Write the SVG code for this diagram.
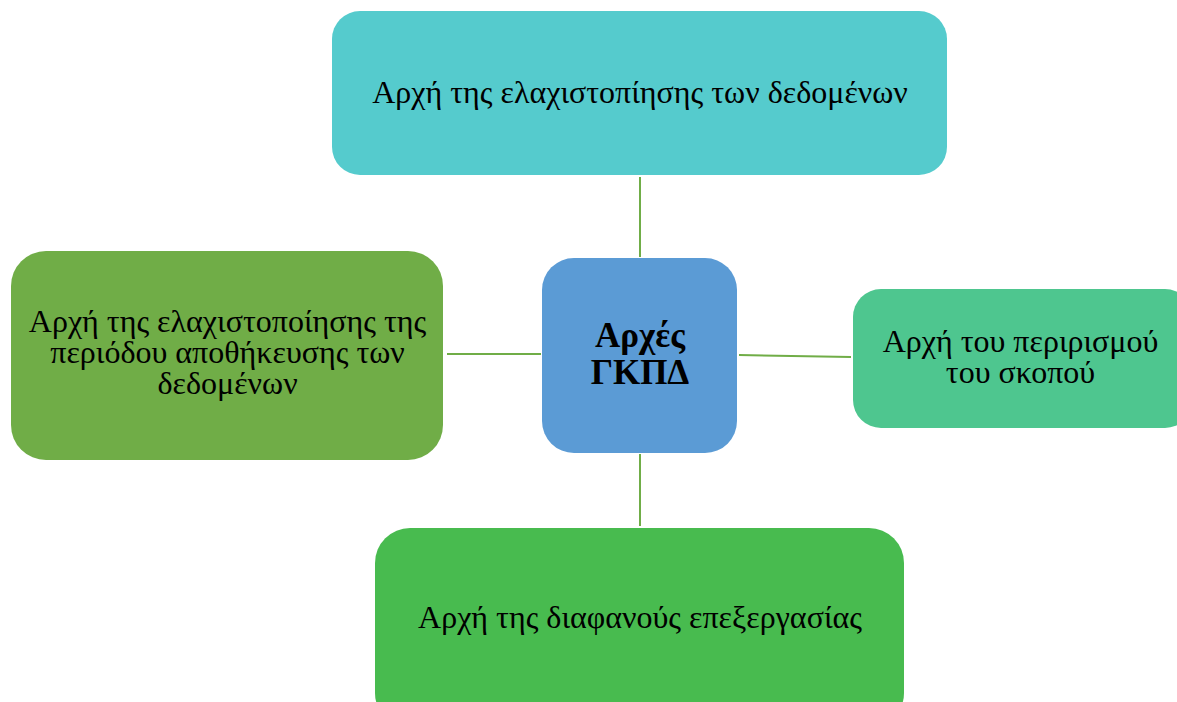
<svg xmlns="http://www.w3.org/2000/svg" width="1177" height="702" viewBox="0 0 1177 702">
<style>
.t{font-family:"Liberation Serif","Times New Roman",serif;font-size:32px;fill:#000;text-anchor:middle}
.b{font-weight:bold;font-size:35px}
.c{stroke:#70AD47;stroke-width:2;fill:none}
</style>
<rect width="1177" height="702" fill="#fff"/>
<g id="connectors">
<line class="c" x1="640" y1="177" x2="640" y2="257"/>
<line class="c" x1="447" y1="354" x2="541" y2="354"/>
<line class="c" x1="739" y1="355" x2="851" y2="357"/>
<line class="c" x1="640" y1="454" x2="640" y2="526"/>
</g>
<g id="top">
<rect x="332" y="11" width="615" height="164" rx="28" fill="#55CBCD"/>
<text class="t" x="640" y="103">Αρχή της ελαχιστοπίησης των δεδομένων</text>
</g>
<g id="left">
<rect x="11" y="251" width="432" height="209" rx="35" fill="#70AD47"/>
<text class="t" x="227.5" y="332">Αρχή της ελαχιστοποίησης της</text>
<text class="t" x="227.5" y="363">περιόδου αποθήκευσης των</text>
<text class="t" x="227.5" y="394">δεδομένων</text>
</g>
<g id="center">
<rect x="542" y="258" width="195" height="195" rx="32" fill="#5B9BD5"/>
<text class="t b" x="640" y="347">Αρχές</text>
<text class="t b" x="640" y="384">ΓΚΠΔ</text>
</g>
<g id="right">
<rect x="853" y="289" width="340" height="139" rx="28" fill="#4EC68F"/>
<text class="t" x="1020.5" y="352">Αρχή του περιρισμού</text>
<text class="t" x="1020.5" y="383">του σκοπού</text>
</g>
<g id="bottom">
<rect x="375" y="528" width="529" height="200" rx="35" fill="#48BB4F"/>
<text class="t" x="640" y="628">Αρχή της διαφανούς επεξεργασίας</text>
</g>
</svg>
